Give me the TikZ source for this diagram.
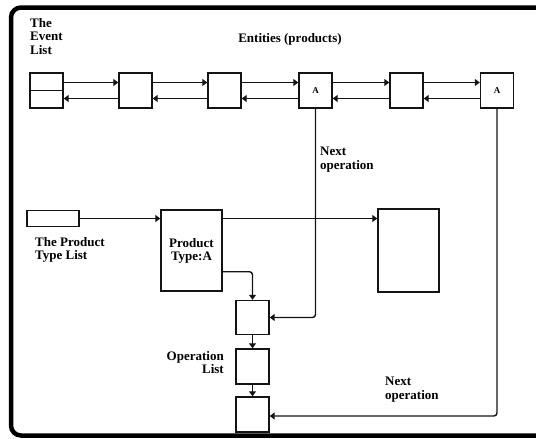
\documentclass[tikz,border=0pt]{standalone}
\usepackage{fontspec}
\setmainfont{Liberation Serif}
\usepackage{tikz}
\usetikzlibrary{arrows.meta, positioning, calc}
\definecolor{mydark}{RGB}{20,20,20}
\tikzset{
  cell/.style={rectangle, draw=mydark, fill=white, minimum width=33pt,
    minimum height=35pt, inner sep=0pt, line width=1.4pt,
    font=\fontsize{9}{9}\selectfont\bfseries},
  bigbox/.style={rectangle, draw=mydark, fill=white, minimum width=61pt,
    minimum height=81pt, inner sep=0pt, line width=1.4pt, align=center,
    font=\fontsize{13}{13}\selectfont\bfseries},
  listbox/.style={rectangle, draw=mydark, fill=white, minimum width=52pt,
    minimum height=16pt, inner sep=0pt, line width=1.4pt},
  lbl/.style={font=\fontsize{13}{13.5}\selectfont\bfseries, inner sep=0pt, align=left},
  arrow/.style={-{Triangle[length=5pt,width=7pt]}, line width=1.4pt, color=mydark},
  frame/.style={line width=4.5pt, rounded corners=10pt}
}
\begin{document}
\begin{tikzpicture}[x=1pt, y=-1pt]
  \useasboundingbox (0,0) rectangle (536,439);
  \clip (0,0) rectangle (536,439);
  % outer frame
  \draw[frame] (11,7.5) rectangle (570,435.5);
  % event list and entities
  \node[lbl, anchor=north west] (evtitle) at (30,18) {The\\Event\\List};
  \node[lbl] (enttitle) at (290,39) {Entities (products)};
  \node[cell] (evlist) at (46.5,90.5) {};
  \draw[line width=1.4pt, mydark] (evlist.west) -- (evlist.east);
  \node[cell] (ent1) at (135.5,90.5) {};
  \node[cell] (ent2) at (224.5,90.5) {};
  \node[cell] (ent3) at (315.5,90.5) {A};
  \node[cell] (ent4) at (406.5,90.5) {};
  \node[cell] (ent5) at (497,90.5) {A};
  % links forward and back
  \draw[arrow] ([yshift=8pt]evlist.east) -- ([yshift=8pt]ent1.west);
  \draw[arrow] ([yshift=-8pt]ent1.west) -- ([yshift=-8pt]evlist.east);
  \draw[arrow] ([yshift=8pt]ent1.east) -- ([yshift=8pt]ent2.west);
  \draw[arrow] ([yshift=-8pt]ent2.west) -- ([yshift=-8pt]ent1.east);
  \draw[arrow] ([yshift=8pt]ent2.east) -- ([yshift=8pt]ent3.west);
  \draw[arrow] ([yshift=-8pt]ent3.west) -- ([yshift=-8pt]ent2.east);
  \draw[arrow] ([yshift=8pt]ent3.east) -- ([yshift=8pt]ent4.west);
  \draw[arrow] ([yshift=-8pt]ent4.west) -- ([yshift=-8pt]ent3.east);
  \draw[arrow] ([yshift=8pt]ent4.east) -- ([yshift=8pt]ent5.west);
  \draw[arrow] ([yshift=-8pt]ent5.west) -- ([yshift=-8pt]ent4.east);
  % product type list
  \node[listbox] (ptlist) at (53,218.5) {};
  \node[lbl, anchor=north west] (pttitle) at (35,237) {The Product\\Type List};
  \node[bigbox] (ptype) at (191.5,250.5) {Product\\Type:A};
  \node[bigbox, minimum height=83pt] (rbox) at (408.5,250.5) {};
  \draw[arrow] (ptlist.east) -- (ptype.west |- ptlist.east);
  \draw[arrow] (ptype.east |- ptlist.east) -- (rbox.west |- ptlist.east);
  % operation list
  \node[cell, minimum height=34pt] (op1) at (252.5,317.5) {};
  \node[cell] (op2) at (252.5,366.5) {};
  \node[cell] (op3) at (252.5,414.5) {};
  \node[lbl, anchor=north east, align=right] (optitle) at (224,351) {Operation\\List};
  \draw[arrow, rounded corners=3pt] ([yshift=20pt]ptype.south east) -| (op1.north);
  \draw[arrow] (op1) -- (op2);
  \draw[arrow] (op2) -- (op3);
  % next operation links
  \draw[arrow, rounded corners=3pt] (ent3.south) |- (op1.east);
  \node[lbl, anchor=north west] (next1) at (320,147) {Next\\operation};
  \draw[arrow, rounded corners=3pt] (ent5.south) |- ([yshift=-1.5pt]op3.east);
  \node[lbl, anchor=north west] (next2) at (385,377) {Next\\operation};
\end{tikzpicture}
\end{document}
